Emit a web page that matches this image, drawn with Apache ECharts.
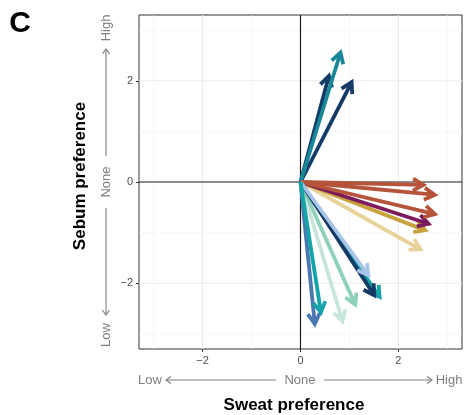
<!DOCTYPE html>
<html>
<head>
<meta charset="utf-8">
<script src="https://cdn.jsdelivr.net/npm/echarts@6/dist/echarts.min.js"></script>
<style>
html, body { margin: 0; padding: 0; background: #fff; }
#main { width: 466px; height: 415px; }
</style>
</head>
<body>
<div id="main"></div>
<script>
// arrow tips (sweat, sebum), drawn in this order
var tipX = [0.60, 1.08, 0.84, 2.52, 2.62, 2.69, 2.82, 2.82, 2.59, 0.88, 1.15, 1.66, 1.55, 1.43, 0.30, 0.43]
var tipY = [2.17, 2.04, 2.63, -1.37, -0.98, -0.85, -0.65, -0.26, -0.06, -2.82, -2.49, -2.33, -2.30, -1.90, -2.88, -2.65]
var arrowColors = ['#143a66', '#143a66', '#1a8799', '#e8d49a', '#c9a23c', '#7b1b5e', '#b5543a', '#b5543a', '#b5543a',
                   '#c7e5da', '#8ed0bb', '#13a3a8', '#143a66', '#a6c5e8', '#4a78b0', '#13a3a8']
var majorTicks = [-2, 0, 2]
var minorTicks = [-3, -1, 1, 3]
var axisMin = -3.3, axisMax = 3.3

var font = 'Liberation Sans, Arial, sans-serif'
var grey = '#7f7f7f'
var myChart = echarts.init(document.getElementById('main'));

var arrowData = []
for (var i = 0; i < tipX.length; i++) arrowData.push([tipX[i], tipY[i]])

// grid lines: [value, isY, isMajor]
var gridData = []
minorTicks.forEach(function (v) { gridData.push([v, 0, 0]); gridData.push([v, 1, 0]) })
majorTicks.forEach(function (v) { gridData.push([v, 0, 1]); gridData.push([v, 1, 1]) })

function renderGrid(params, api) {
    var cs = params.coordSys
    var v = api.value(0), isY = api.value(1), major = api.value(2)
    var zero = major && v === 0
    var style = {
        stroke: zero ? '#1a1a1a' : (major ? '#ebebeb' : '#f4f4f4'),
        lineWidth: zero ? 1.2 : (major ? 1.1 : 0.6)
    }
    if (isY) {
        var py = api.coord([0, v])[1]
        return { type: 'line', z2: zero ? 5 : 1, shape: { x1: cs.x, y1: py, x2: cs.x + cs.width, y2: py }, style: style }
    }
    var px = api.coord([v, 0])[0]
    return { type: 'line', z2: zero ? 5 : 1, shape: { x1: px, y1: cs.y, x2: px, y2: cs.y + cs.height }, style: style }
}

function renderArrow(params, api) {
    var o = api.coord([0, 0])
    var p = api.coord([api.value(0), api.value(1)])
    var dx = p[0] - o[0], dy = p[1] - o[1]
    var len = Math.sqrt(dx * dx + dy * dy)
    var ux = dx / len, uy = dy / len
    var lw = 3.8, h = 12, a = Math.PI / 6
    // pull back so the mitred tip sits on the data point
    var back = (lw / 2) / Math.sin(a)
    var t = [p[0] - ux * back, p[1] - uy * back]
    var c = Math.cos(a), s = Math.sin(a)
    var bx = -ux, by = -uy
    var l1 = [t[0] + h * (bx * c - by * s), t[1] + h * (bx * s + by * c)]
    var l2 = [t[0] + h * (bx * c + by * s), t[1] + h * (-bx * s + by * c)]
    var col = arrowColors[params.dataIndex]
    return {
        type: 'group',
        children: [
            { type: 'line', shape: { x1: o[0], y1: o[1], x2: t[0] - ux, y2: t[1] - uy }, style: { stroke: col, lineWidth: lw } },
            { type: 'polyline', shape: { points: [l1, t, l2] }, style: { stroke: col, lineWidth: lw, fill: null, lineJoin: 'miter' } }
        ]
    }
}

function gtext(txt, x, y, rot, size, color, weight) {
    return {
        type: 'text', x: x, y: y, rotation: rot || 0,
        style: { text: txt, font: (weight || 'normal') + ' ' + size + 'px ' + font, fill: color, align: 'center', verticalAlign: 'middle' }
    }
}
function garrow(x1, y1, x2, y2) {
    var ang = Math.atan2(y2 - y1, x2 - x1), h = 6, a = Math.PI / 5
    var p1 = [x2 - h * Math.cos(ang - a), y2 - h * Math.sin(ang - a)]
    var p2 = [x2 - h * Math.cos(ang + a), y2 - h * Math.sin(ang + a)]
    return [
        { type: 'line', shape: { x1: x1, y1: y1, x2: x2, y2: y2 }, style: { stroke: grey, lineWidth: 1.1 } },
        { type: 'polyline', shape: { points: [p1, [x2, y2], p2] }, style: { stroke: grey, lineWidth: 1.1, fill: null } }
    ]
}

var graphics = [
    gtext('C', 20, 24, 0, 30, '#000', 'bold'),
    gtext('Sebum preference', 80, 176, Math.PI / 2, 17, '#000', 'bold'),
    gtext('Sweat preference', 294, 405, 0, 17, '#000', 'bold'),
    gtext('High', 106, 28, Math.PI / 2, 13, grey),
    gtext('None', 106, 182, Math.PI / 2, 13, grey),
    gtext('Low', 106, 335, Math.PI / 2, 13, grey),
    gtext('Low', 150, 380, 0, 13, grey),
    gtext('None', 300, 380, 0, 13, grey),
    gtext('High', 449, 380, 0, 13, grey)
].concat(garrow(106, 156, 106, 49), garrow(106, 208, 106, 315), garrow(276, 380, 166, 380), garrow(324, 380, 432, 380))

function labelFmt(v) { return v < 0 ? '\u2212' + Math.abs(v) : String(v) }

option = {
    animation: false,
    backgroundColor: '#fff',
    grid: { left: 139, right: 4, top: 15, bottom: 66, show: true, borderColor: '#333', borderWidth: 1, backgroundColor: 'transparent' },
    xAxis: {
        type: 'value', min: axisMin, max: axisMax,
        axisLine: { show: false, onZero: false },
        splitLine: { show: false },
        axisTick: { show: true, length: 3, lineStyle: { color: '#333' }, customValues: majorTicks },
        axisLabel: { show: true, margin: 6, color: '#4d4d4d', fontSize: 11, fontFamily: font, customValues: majorTicks, formatter: labelFmt }
    },
    yAxis: {
        type: 'value', min: axisMin, max: axisMax,
        axisLine: { show: false, onZero: false },
        splitLine: { show: false },
        axisTick: { show: true, length: 3, lineStyle: { color: '#333' }, customValues: majorTicks },
        axisLabel: { show: true, margin: 6, color: '#4d4d4d', fontSize: 11, fontFamily: font, customValues: majorTicks, formatter: labelFmt }
    },
    graphic: graphics,
    series: [
        { type: 'custom', name: 'grid', silent: true, z: 1, data: gridData, renderItem: renderGrid, encode: { x: -1, y: -1 } },
        { type: 'custom', name: 'arrows', silent: true, z: 3, data: arrowData, renderItem: renderArrow, encode: { x: 0, y: 1 } }
    ]
};

myChart.setOption(option);
</script>
</body>
</html>
